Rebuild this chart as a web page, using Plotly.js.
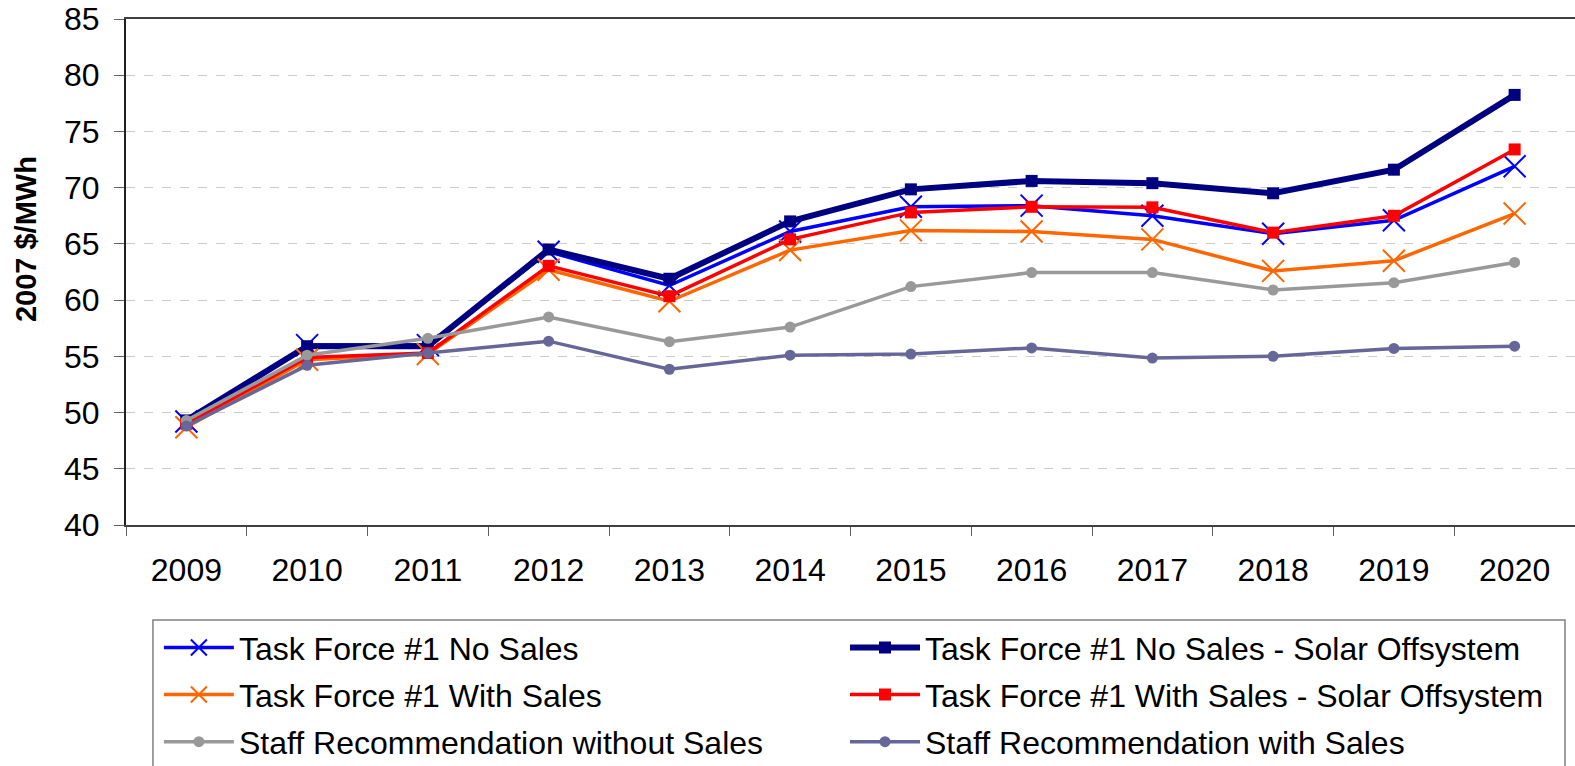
<!DOCTYPE html>
<html>
<head>
<meta charset="utf-8">
<script src="https://cdn.plot.ly/plotly-3.0.1.min.js"></script>
<style>html,body{margin:0;padding:0;background:#fff;}#chart{width:1575px;height:766px;}</style>
</head>
<body>
<div id="chart"></div>
<script>
const years = ["2009","2010","2011","2012","2013","2014","2015","2016","2017","2018","2019","2020"];
const tfNoSales = [49.2, 56.0, 56.0, 64.3, 61.3, 66.1, 68.3, 68.4, 67.5, 65.9, 67.1, 71.9];
const tfNoSalesSolar = [49.3, 55.9, 55.9, 64.5, 61.9, 67.0, 69.85, 70.6, 70.4, 69.5, 71.6, 78.25];
const tfWithSales = [48.7, 54.7, 55.2, 62.7, 59.9, 64.45, 66.2, 66.1, 65.4, 62.6, 63.5, 67.7];
const tfWithSalesSolar = [49.0, 54.9, 55.3, 63.05, 60.35, 65.4, 67.8, 68.3, 68.25, 66.0, 67.5, 73.4];
const staffWithout = [49.3, 55.1, 56.6, 58.5, 56.3, 57.6, 61.2, 62.45, 62.45, 60.9, 61.55, 63.35];
const staffWith = [48.8, 54.2, 55.3, 56.35, 53.85, 55.1, 55.2, 55.75, 54.85, 55.0, 55.7, 55.9];
const seriesNames = [
  "Task Force #1 No Sales",
  "Task Force #1 No Sales - Solar Offsystem",
  "Task Force #1 With Sales",
  "Task Force #1 With Sales - Solar Offsystem",
  "Staff Recommendation without Sales",
  "Staff Recommendation with Sales"
];
const yTitle = "2007 $/MWh";

const traces = [
  {y: tfNoSales, name: seriesNames[0], legend: "legend", line: {color: "#0000FF", width: 3.5},
   marker: {symbol: "x-thin-open", size: 22, color: "#0000FF", line: {color: "#0000FF", width: 2}}},
  {y: tfNoSalesSolar, name: seriesNames[1], legend: "legend2", line: {color: "#000080", width: 6},
   marker: {symbol: "square", size: 12, color: "#000080"}},
  {y: tfWithSales, name: seriesNames[2], legend: "legend", line: {color: "#FF6600", width: 3.5},
   marker: {symbol: "x-thin-open", size: 22, color: "#FF6600", line: {color: "#FF6600", width: 2}}},
  {y: tfWithSalesSolar, name: seriesNames[3], legend: "legend2", line: {color: "#FF0000", width: 3.5},
   marker: {symbol: "square", size: 12, color: "#FF0000"}},
  {y: staffWithout, name: seriesNames[4], legend: "legend", line: {color: "#999999", width: 3.5},
   marker: {symbol: "circle", size: 11, color: "#999999"}},
  {y: staffWith, name: seriesNames[5], legend: "legend2", line: {color: "#666699", width: 3.5},
   marker: {symbol: "circle", size: 11, color: "#666699"}}
].map((t, i) => Object.assign({x: years, type: "scatter", mode: "lines+markers", legendgroup: "g" + i}, t));

const legendBase = {
  orientation: "v", xanchor: "left", y: -0.188, yanchor: "top",
  bgcolor: "rgba(0,0,0,0)", borderwidth: 0,
  font: {size: 32, family: "Liberation Sans, Arial, sans-serif"},
  itemwidth: 70, tracegroupgap: 2.5, traceorder: "grouped"
};

const layout = {
  width: 1575, height: 766,
  margin: {l: 126, r: 0, t: 19, b: 241, autoexpand: false},
  paper_bgcolor: "#fff", plot_bgcolor: "#fff",
  font: {family: "Liberation Sans, Arial, sans-serif", color: "#000"},
  showlegend: true,
  xaxis: {
    type: "category", range: [-0.5, 11.5],
    showline: true, linecolor: "#404040", linewidth: 2, mirror: true,
    ticks: "outside", tickson: "boundaries", ticklen: 9, tickcolor: "#606060", tickwidth: 1,
    tickfont: {size: 32, family: "Liberation Sans, Arial, sans-serif"},
    ticklabelstandoff: 16,
    showgrid: false, zeroline: false, fixedrange: true, automargin: false
  },
  yaxis: {
    range: [40, 85], dtick: 5, tick0: 40,
    showline: true, linecolor: "#202020", linewidth: 2,
    ticks: "outside", ticklen: 10, tickcolor: "#606060",
    tickfont: {size: 32, family: "Liberation Sans, Arial, sans-serif"},
    ticklabelstandoff: 8,
    showgrid: true, gridcolor: "#cccccc", griddash: "dash", gridwidth: 1,
    zeroline: false, fixedrange: true, automargin: false
  },
  annotations: [{
    text: "<b>" + yTitle + "</b>", textangle: -90, showarrow: false,
    xref: "paper", yref: "paper", x: 0, xshift: -100, y: 0.565,
    xanchor: "center", yanchor: "middle",
    font: {size: 29, family: "Liberation Sans, Arial, sans-serif", color: "#000"}
  }],
  shapes: [{
    type: "rect", xref: "paper", yref: "paper",
    x0: 0.0186, x1: 0.9931, y0: -0.1877, y1: -0.6,
    line: {color: "#808080", width: 1.5}, fillcolor: "rgba(0,0,0,0)", layer: "below"
  }],
  legend: Object.assign({x: 0.0227}, legendBase),
  legend2: Object.assign({x: 0.4962}, legendBase)
};

Plotly.newPlot("chart", traces, layout, {displayModeBar: false, staticPlot: true});
</script>
</body>
</html>
